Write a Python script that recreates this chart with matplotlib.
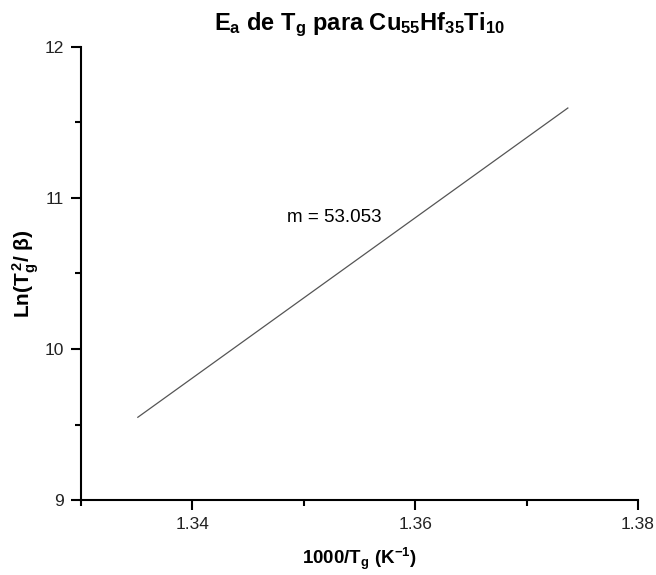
import numpy as np
import matplotlib
matplotlib.use("Agg")
import matplotlib.pyplot as plt
from matplotlib.ticker import MultipleLocator

plt.rcParams['font.family'] = ['Liberation Sans', 'DejaVu Sans']
plt.rcParams['mathtext.fontset'] = 'custom'
plt.rcParams['mathtext.rm'] = 'Liberation Sans'
plt.rcParams['mathtext.it'] = 'Liberation Sans:italic'
plt.rcParams['mathtext.bf'] = 'Liberation Sans:bold'

# ajuste lineal de Kissinger: ln(Tg^2/beta) vs 1000/Tg
x_range = [1.3351, 1.3737]
m = 53.053
y_start = 9.548
label_pos = (1.3485, 10.87)


def fit_line(x):
    x = np.asarray(x)
    return y_start + m * (x - x_range[0])


fig = plt.figure(figsize=(6.56, 5.75), dpi=100)
ax = fig.add_axes([0.1235, 0.1304, 0.8491, 0.7879])

xs = np.array(x_range)
ax.plot(xs, fit_line(xs), color='#555555', lw=0.9)
ax.text(label_pos[0], label_pos[1], f"m = {m:.3f}", fontsize=13.5, va='center', ha='left')

ax.set_xlim(1.33, 1.38)
ax.set_ylim(9, 12)
ax.xaxis.set_major_locator(MultipleLocator(0.02))
ax.xaxis.set_minor_locator(MultipleLocator(0.01))
ax.yaxis.set_major_locator(MultipleLocator(1))
ax.yaxis.set_minor_locator(MultipleLocator(0.5))
ax.set_xticks([1.34, 1.36, 1.38])
ax.set_xticklabels(['1.34', '1.36', '1.38'])

for s in ['top', 'right']:
    ax.spines[s].set_visible(False)
for s in ['left', 'bottom']:
    ax.spines[s].set_linewidth(1.5)

ax.tick_params(which='major', direction='out', length=7, width=1.5,
               labelsize=12.5, pad=5, labelcolor='#222222')
ax.tick_params(which='minor', direction='out', length=4, width=1.5)

ax.set_title(r'$\mathbf{E_a\ de\ T_g\ para\ Cu_{55}Hf_{35}Ti_{10}}$', fontsize=17, pad=12, x=0.5)
ax.set_xlabel(r'$\mathbf{1000/T_g\ (K^{-1})}$', fontsize=13.5, labelpad=10)
ax.set_ylabel(r'$\mathbf{Ln(T_g^{\,2}/\ \beta)}$', fontsize=15)
ax.yaxis.set_label_coords(-0.072, 0.5)

fig.savefig("out.png", dpi=100)
